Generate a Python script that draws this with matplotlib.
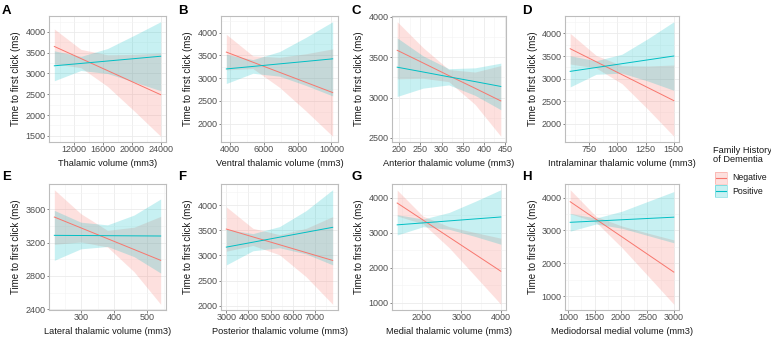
import matplotlib
matplotlib.use("Agg")
import matplotlib.pyplot as plt
from matplotlib.ticker import AutoMinorLocator, FixedLocator
from matplotlib.patches import Rectangle
from matplotlib.lines import Line2D

NARROW = ['Liberation Sans Narrow', 'Liberation Sans', 'DejaVu Sans']
REGULAR = ['Liberation Sans', 'DejaVu Sans']
plt.rcParams['font.family'] = NARROW

# ---------------- data ----------------
# Panel A: Thalamic volume
A_x       = [9280, 12935, 16590, 20245, 23900]
A_neg_fit = [3650, 3360, 3070, 2780, 2490]
A_neg_lo  = [3230, 3140, 2690, 2100, 1490]
A_neg_hi  = [4070, 3580, 3450, 3460, 3490]
A_pos_fit = [3185, 3242, 3300, 3357, 3415]
A_pos_lo  = [2825, 3072, 3000, 2797, 2585]
A_pos_hi  = [3545, 3412, 3600, 3917, 4245]

# Panel B: Ventral thalamic volume
B_x       = [3780, 5355, 6930, 8505, 10080]
B_neg_fit = [3570, 3348, 3126, 2904, 2681]
B_neg_lo  = [3180, 3208, 2796, 2274, 1721]
B_neg_hi  = [3960, 3488, 3456, 3534, 3641]
B_pos_fit = [3200, 3255, 3311, 3366, 3422]
B_pos_lo  = [2880, 3105, 3041, 2836, 2607]
B_pos_hi  = [3520, 3405, 3581, 3896, 4237]

# Panel C: Anterior thalamic volume
C_x       = [195, 256, 317, 379, 440]
C_neg_fit = [3584, 3428, 3271, 3115, 2958]
C_neg_lo  = [3231, 3238, 3196, 2915, 2521]
C_neg_hi  = [3937, 3618, 3346, 3315, 3395]
C_pos_fit = [3375, 3316, 3256, 3197, 3137]
C_pos_lo  = [3013, 3116, 3156, 3027, 2849]
C_pos_hi  = [3737, 3516, 3356, 3367, 3425]

# Panel D: Intralaminar thalamic volume
D_x       = [580, 810, 1040, 1270, 1500]
D_neg_fit = [3662, 3374, 3087, 2799, 2511]
D_neg_lo  = [3322, 3234, 2887, 2319, 1721]
D_neg_hi  = [4002, 3514, 3287, 3279, 3301]
D_pos_fit = [3160, 3245, 3330, 3415, 3500]
D_pos_lo  = [2815, 3095, 3120, 2945, 2740]
D_pos_hi  = [3505, 3395, 3540, 3885, 4260]

# Panel E: Lateral thalamic volume
E_x       = [218, 298.5, 379, 459.5, 540]
E_neg_fit = [3508, 3378, 3248, 3118, 2988]
E_neg_lo  = [3180, 3208, 3148, 2850, 2460]
E_neg_hi  = [3836, 3548, 3348, 3386, 3516]
E_pos_fit = [3288, 3286, 3284, 3282, 3280]
E_pos_lo  = [2988, 3126, 3154, 3032, 2835]
E_pos_hi  = [3588, 3446, 3414, 3532, 3725]

# Panel F: Posterior thalamic volume
F_x       = [3000, 4200, 5400, 6600, 7800]
F_neg_fit = [3525, 3369, 3214, 3058, 2902]
F_neg_lo  = [3085, 3199, 3014, 2578, 2032]
F_neg_hi  = [3965, 3539, 3414, 3538, 3772]
F_pos_fit = [3166, 3264, 3363, 3461, 3559]
F_pos_lo  = [2813, 3094, 3153, 3031, 2813]
F_pos_hi  = [3519, 3434, 3573, 3891, 4305]

# Panel G: Medial thalamic volume
G_x       = [1375, 2031, 2688, 3344, 4000]
G_neg_fit = [3854, 3366, 2878, 2390, 1902]
G_neg_lo  = [3484, 3256, 2578, 1770, 956]
G_neg_hi  = [4224, 3476, 3178, 3010, 2848]
G_pos_fit = [3229, 3285, 3342, 3398, 3454]
G_pos_lo  = [2939, 3175, 3102, 2898, 2674]
G_pos_hi  = [3519, 3395, 3582, 3898, 4234]

# Panel H: Mediodorsal medial volume
H_x       = [1040, 1530, 2020, 2510, 3000]
H_neg_fit = [3875, 3339, 2804, 2268, 1732]
H_neg_lo  = [3510, 3249, 2474, 1618, 752]
H_neg_hi  = [4240, 3429, 3134, 2918, 2712]
H_pos_fit = [3248, 3287, 3326, 3365, 3404]
H_pos_lo  = [2978, 3197, 3066, 2845, 2624]
H_pos_hi  = [3518, 3377, 3586, 3885, 4184]

panel_letters = ['A', 'B', 'C', 'D', 'E', 'F', 'G', 'H']
x_titles = ['Thalamic volume (mm3)', 'Ventral thalamic volume (mm3)',
            'Anterior thalamic volume (mm3)', 'Intralaminar thalamic volume (mm3)',
            'Lateral thalamic volume (mm3)', 'Posterior thalamic volume (mm3)',
            'Medial thalamic volume (mm3)', 'Mediodorsal medial volume (mm3)']
y_title = 'Time to first click (ms)'
x_ticks = [[12000, 16000, 20000, 24000], [4000, 6000, 8000, 10000],
           [200, 250, 300, 350, 400, 450], [750, 1000, 1250, 1500],
           [300, 400, 500], [3000, 4000, 5000, 6000, 7000],
           [2000, 3000, 4000], [1000, 1500, 2000, 2500, 3000]]
y_ticks = [[1500, 2000, 2500, 3000, 3500, 4000], [2000, 2500, 3000, 3500, 4000],
           [2500, 3000, 3500, 4000], [2000, 2500, 3000, 3500, 4000],
           [2400, 2800, 3200, 3600], [2000, 2500, 3000, 3500, 4000],
           [1000, 2000, 3000, 4000], [1000, 2000, 3000, 4000]]
legend_title = 'Family History\nof Dementia'
groups = ['Negative', 'Positive']

panels = [
    (A_x, A_neg_fit, A_neg_lo, A_neg_hi, A_pos_fit, A_pos_lo, A_pos_hi),
    (B_x, B_neg_fit, B_neg_lo, B_neg_hi, B_pos_fit, B_pos_lo, B_pos_hi),
    (C_x, C_neg_fit, C_neg_lo, C_neg_hi, C_pos_fit, C_pos_lo, C_pos_hi),
    (D_x, D_neg_fit, D_neg_lo, D_neg_hi, D_pos_fit, D_pos_lo, D_pos_hi),
    (E_x, E_neg_fit, E_neg_lo, E_neg_hi, E_pos_fit, E_pos_lo, E_pos_hi),
    (F_x, F_neg_fit, F_neg_lo, F_neg_hi, F_pos_fit, F_pos_lo, F_pos_hi),
    (G_x, G_neg_fit, G_neg_lo, G_neg_hi, G_pos_fit, G_pos_lo, G_pos_hi),
    (H_x, H_neg_fit, H_neg_lo, H_neg_hi, H_pos_fit, H_pos_lo, H_pos_hi),
]

# ---------------- styling ----------------
W, H = 771, 338
NEG = '#F8766D'
POS = '#00BFC4'
FILL_ALPHA = 0.22
fig = plt.figure(figsize=(W / 100, H / 100), dpi=100)

# pixel boxes (left, right, top, bottom)
cols = [(49, 166), (221, 338), (392, 506), (565, 679)]
rows = [(16, 142), (184, 310)]
letter_x = [2, 178, 352, 522]
letter_y = [5, 171]

for i, data in enumerate(panels):
    r, c = divmod(i, 4)
    l, rt = cols[c]
    t, b = rows[r]
    ax = fig.add_axes([l / W, 1 - b / H, (rt - l) / W, (b - t) / H])
    x, nf, nlo, nhi, pf, plo, phi = data
    ax.fill_between(x, nlo, nhi, color=NEG, alpha=FILL_ALPHA, lw=0)
    ax.plot(x, nf, color=NEG, lw=0.7)
    ax.fill_between(x, plo, phi, color=POS, alpha=FILL_ALPHA, lw=0)
    ax.plot(x, pf, color=POS, lw=0.7)
    ax.margins(x=0.05, y=0.05)
    ax.xaxis.set_major_locator(FixedLocator(x_ticks[i]))
    ax.yaxis.set_major_locator(FixedLocator(y_ticks[i]))
    ax.xaxis.set_minor_locator(AutoMinorLocator(2))
    ax.yaxis.set_minor_locator(AutoMinorLocator(2))
    ax.grid(which='major', color='#EBEBEB', lw=0.6)
    ax.grid(which='minor', color='#F4F4F4', lw=0.4)
    ax.set_axisbelow(True)
    for s in ax.spines.values():
        s.set_color('#BDBDBD')
        s.set_linewidth(0.8)
    ax.tick_params(which='major', length=1.8, width=0.5, color='#555555',
                   labelsize=6.5, labelcolor='#4D4D4D', pad=0.6)
    ax.tick_params(which='minor', length=0)
    ax.set_xlabel(x_titles[i], fontsize=6.7, color='#1A1A1A', labelpad=3.5)
    ax.set_ylabel(y_title, fontsize=7, color='#1A1A1A', labelpad=3,
                  family=REGULAR)
    fig.text(letter_x[c] / W, 1 - letter_y[r] / H, panel_letters[i],
             fontsize=9.5, fontweight='bold', ha='left', va='top')

# ---------------- legend ----------------
fig.text(713 / W, 1 - 146 / H, legend_title, fontsize=6.7, ha='left', va='top',
         linespacing=1.0, color='#1A1A1A')
key_top = [172, 185]
for k, (g, col) in enumerate(zip(groups, [NEG, POS])):
    ky = key_top[k]
    rect = Rectangle((715 / W, 1 - (ky + 12) / H), 12 / W, 12 / H,
                     transform=fig.transFigure, facecolor=col, alpha=FILL_ALPHA,
                     edgecolor='none')
    fig.patches.append(rect)
    edge = Rectangle((715 / W, 1 - (ky + 12) / H), 12 / W, 12 / H,
                     transform=fig.transFigure, facecolor='none',
                     edgecolor=col, lw=0.5, alpha=0.5)
    fig.patches.append(edge)
    fig.lines.append(Line2D([716 / W, 726 / W], [1 - (ky + 6) / H] * 2,
                            transform=fig.transFigure, color=col, lw=0.8))
    fig.text(732 / W, 1 - (ky + 6) / H, g, fontsize=6.3, ha='left',
             va='center', color='#1A1A1A')

fig.savefig('out.png', dpi=100)
